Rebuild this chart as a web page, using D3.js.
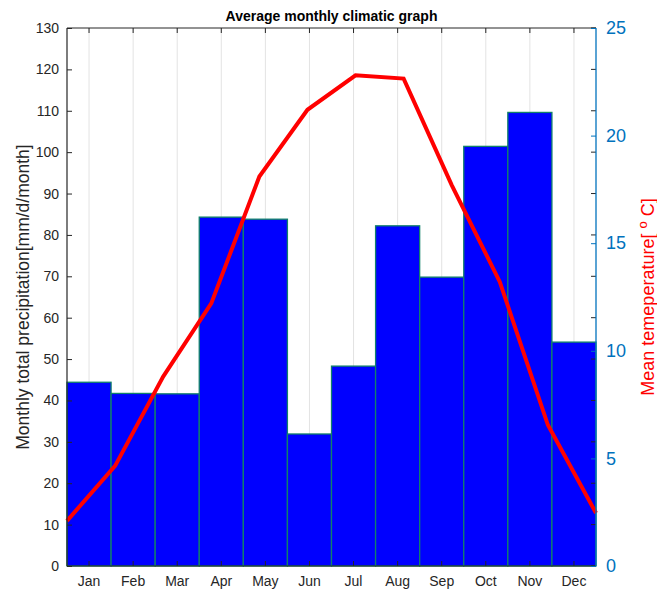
<!DOCTYPE html>
<html>
<head>
<meta charset="utf-8">
<script src="https://cdn.jsdelivr.net/npm/d3@7"></script>
<style>
  html, body { margin: 0; padding: 0; background: #fff; }
  svg { display: block; font-family: "Liberation Sans", Arial, Helvetica, sans-serif; }
</style>
</head>
<body>
<svg id="chart" width="657" height="590"></svg>
<script>
const months = ["Jan","Feb","Mar","Apr","May","Jun","Jul","Aug","Sep","Oct","Nov","Dec"];
const precipitation = [44.4, 41.7, 41.6, 84.3, 83.8, 31.9, 48.3, 82.2, 69.8, 101.4, 109.6, 54.1];
const temperature = [2.1, 4.65, 8.8, 12.2, 18.1, 21.2, 22.8, 22.65, 17.7, 13.2, 6.55, 2.46];
const leftTicks = [0,10,20,30,40,50,60,70,80,90,100,110,120,130];
const rightTicks = [0,5,10,15,20,25];
const title = "Average monthly climatic graph";
const leftLabel = "Monthly total precipitation[mm/d/month]";

const L = 67, R = 596, T = 28, B = 566;
const svg = d3.select("#chart");
const dark = "#262626";
const blue = "#0072BD";

const xBand = d3.scaleBand().domain(months).range([L, R]).paddingInner(0).paddingOuter(0);
const xPoint = d3.scalePoint().domain(months).range([L, R]).padding(0);
const yL = d3.scaleLinear().domain([0, 130]).range([B, T]);
const yR = d3.scaleLinear().domain([0, 25]).range([B, T]);

// vertical grid at month centers
svg.append("g").selectAll("line").data(months).join("line")
  .attr("x1", d => xBand(d) + xBand.bandwidth()/2)
  .attr("x2", d => xBand(d) + xBand.bandwidth()/2)
  .attr("y1", T).attr("y2", B)
  .attr("stroke", "#e3e3e3").attr("stroke-width", 1);

// bars
svg.append("g").selectAll("rect").data(precipitation).join("rect")
  .attr("x", (d,i) => xBand(months[i]))
  .attr("y", d => yL(d))
  .attr("width", xBand.bandwidth())
  .attr("height", d => B - yL(d))
  .attr("fill", "#0000FF")
  .attr("stroke", "#11806a")
  .attr("stroke-width", 1.3);

// temperature line
const line = d3.line().x((d,i) => xPoint(months[i])).y(d => yR(d));
svg.append("path").datum(temperature)
  .attr("d", line)
  .attr("fill", "none")
  .attr("stroke", "#FF0000")
  .attr("stroke-width", 4)
  .attr("stroke-linejoin", "miter");

// left axis
const axL = d3.axisLeft(yL).tickValues(leftTicks).tickSize(-5).tickPadding(8);
const gL = svg.append("g").attr("transform", `translate(${L},0)`).call(axL);
gL.select(".domain").remove();
gL.selectAll(".tick line").attr("stroke", dark);
gL.selectAll(".tick text").attr("fill", dark).style("font-size", "14px");

// right-side mirrored left ticks (dark)
svg.append("g").selectAll("line").data(leftTicks).join("line")
  .attr("x1", R).attr("x2", R - 5)
  .attr("y1", d => yL(d)).attr("y2", d => yL(d))
  .attr("stroke", dark);

// bottom axis labels
const axB = d3.axisBottom(xBand).tickSize(-5).tickPadding(10);
const gB = svg.append("g").attr("transform", `translate(0,${B})`).call(axB);
gB.select(".domain").remove();
gB.selectAll(".tick line").attr("stroke", dark);
gB.selectAll(".tick text").attr("fill", dark).style("font-size", "14px");

// top ticks
const axT = d3.axisTop(xBand).tickSize(-5).tickFormat("");
const gT = svg.append("g").attr("transform", `translate(0,${T})`).call(axT);
gT.select(".domain").remove();
gT.selectAll(".tick line").attr("stroke", dark);

// frame lines
svg.append("line").attr("x1", L).attr("x2", R).attr("y1", T).attr("y2", T).attr("stroke", dark).attr("stroke-width", 1);
svg.append("line").attr("x1", L).attr("x2", R).attr("y1", B).attr("y2", B).attr("stroke", dark).attr("stroke-width", 1.2);
svg.append("line").attr("x1", L).attr("x2", L).attr("y1", T).attr("y2", B).attr("stroke", dark).attr("stroke-width", 1.2);

// right axis
const axR = d3.axisRight(yR).tickValues(rightTicks).tickSize(-5).tickPadding(10);
const gR = svg.append("g").attr("transform", `translate(${R},0)`).call(axR);
gR.select(".domain").remove();
gR.selectAll(".tick line").attr("stroke", blue);
gR.selectAll(".tick text").attr("fill", blue).style("font-size", "18px");
svg.append("line").attr("x1", R).attr("x2", R).attr("y1", T).attr("y2", B).attr("stroke", blue).attr("stroke-width", 1.3);

// title
svg.append("text").attr("x", (L+R)/2).attr("y", 21)
  .attr("text-anchor", "middle").attr("font-weight", "bold")
  .style("font-size", "14px").attr("fill", "#000").text(title);

// left label
svg.append("text")
  .attr("transform", `translate(29,${(T+B)/2}) rotate(-90)`)
  .attr("text-anchor", "middle").attr("fill", dark).style("font-size", "17.5px")
  .text(leftLabel);

// right label with superscript
const rl = svg.append("text")
  .attr("transform", `translate(654,${(T+B)/2}) rotate(-90)`)
  .attr("text-anchor", "middle").attr("fill", "#FF0000").style("font-size", "18px");
rl.append("tspan").text("Mean temeperature[ ");
rl.append("tspan").attr("dy", -7).style("font-size", "13px").text("o");
rl.append("tspan").attr("dy", 7).text(" C]");
</script>
</body>
</html>
